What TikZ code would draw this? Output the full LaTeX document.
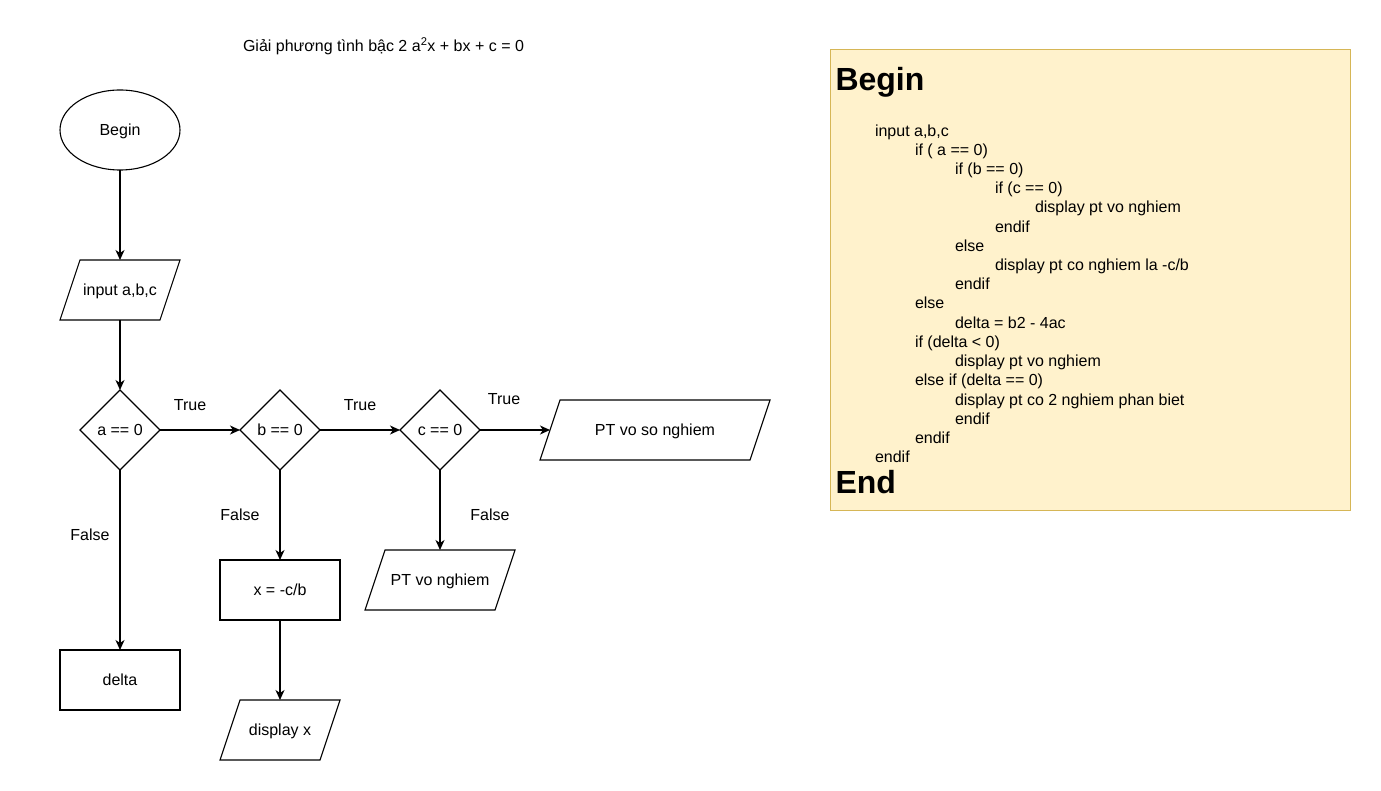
\documentclass[tikz,border=0pt]{standalone}
\usepackage{fontspec}
\setmainfont{Liberation Sans}
\usetikzlibrary{shapes.geometric,arrows.meta}
\definecolor{codefill}{HTML}{FFF2CC}
\definecolor{codeborder}{HTML}{D6B656}
\begin{document}
\begin{tikzpicture}[x=1pt,y=-1pt,
  every node/.style={font=\fontsize{16}{19.2}\selectfont, inner sep=0pt, outer sep=0pt},
  lw/.style={line width=1.1pt},
  txtbox/.style={text height=14.5pt, text depth=3.5pt},
  procbox/.style={draw, lw, rectangle, txtbox, minimum width=120pt, minimum height=60pt},
  parabox/.style={rectangle, txtbox, minimum height=60pt},
  decbox/.style={draw, lw, diamond, txtbox, minimum width=80pt, minimum height=80pt},
  termbox/.style={draw, lw, ellipse, txtbox, minimum width=120pt, minimum height=80pt},
  arr/.style={lw, -{Stealth[length=10pt,width=9pt,inset=3pt]}},
  lbl/.style={txtbox},
  codeline/.style={anchor=base west},
  codehead/.style={anchor=base west, font=\fontsize{32}{38}\selectfont\bfseries},
]
\useasboundingbox (0,0) rectangle (1381,791);

% title
\node[anchor=base west] (title) at (243,51.5) {Giải phương tình bậc 2 a\textsuperscript{2}x + bx + c = 0};

% flowchart nodes
\node[termbox] (begin) at (120,130) {Begin};
\node[parabox, minimum width=120pt] (input) at (120,290) {input a,b,c};
\draw[lw] ([xshift=20pt]input.north west) -- (input.north east) -- ([xshift=-20pt]input.south east) -- (input.south west) -- cycle;
\node[decbox] (a) at (120,430) {a == 0};
\node[decbox] (b) at (280,430) {b == 0};
\node[decbox] (c) at (440,430) {c == 0};
\node[parabox, minimum width=230pt] (vsn) at (655,430) {PT vo so nghiem};
\draw[lw] ([xshift=20pt]vsn.north west) -- (vsn.north east) -- ([xshift=-20pt]vsn.south east) -- (vsn.south west) -- cycle;
\node[procbox] (delta) at (120,680) {delta};
\node[procbox] (x) at (280,590) {x = -c/b};
\node[parabox, minimum width=120pt] (dx) at (280,730) {display x};
\draw[lw] ([xshift=20pt]dx.north west) -- (dx.north east) -- ([xshift=-20pt]dx.south east) -- (dx.south west) -- cycle;
\node[parabox, minimum width=150pt] (vn) at (440,580) {PT vo nghiem};
\draw[lw] ([xshift=20pt]vn.north west) -- (vn.north east) -- ([xshift=-20pt]vn.south east) -- (vn.south west) -- cycle;

% connectors
\draw[arr] (begin.south) -- (input.north);
\draw[arr] (input.south) -- (a.north);
\draw[arr] (a.east) -- (b.west);
\draw[arr] (b.east) -- (c.west);
\draw[arr] (c.east) -- ([xshift=10pt]vsn.west);
\draw[arr] (a.south) -- (delta.north);
\draw[arr] (b.south) -- (x.north);
\draw[arr] (x.south) -- (dx.north);
\draw[arr] (c.south) -- (vn.north);

% labels
\node[lbl] (t1) at (190,405) {True};
\node[lbl] (t2) at (360,405) {True};
\node[lbl] (t3) at (504,399) {True};
\node[lbl] (f1) at (90,535) {False};
\node[lbl] (f2) at (240,515) {False};
\node[lbl] (f3) at (490,515) {False};

% pseudocode box
\node[draw=codeborder, fill=codefill, line width=1pt, minimum width=520pt, minimum height=460pt] (code) at (1090,280) {};
\node[codehead] (hb) at (835.5,91) {Begin};
\node[codeline] (l1) at (875,136.2) {input a,b,c};
\node[codeline] (l2) at (915,155.4) {if ( a == 0)};
\node[codeline] (l3) at (955,174.6) {if (b == 0)};
\node[codeline] (l4) at (995,193.8) {if (c == 0)};
\node[codeline] (l5) at (1035,213) {display pt vo nghiem};
\node[codeline] (l6) at (995,232.2) {endif};
\node[codeline] (l7) at (955,251.4) {else};
\node[codeline] (l8) at (995,270.6) {display pt co nghiem la -c/b};
\node[codeline] (l9) at (955,289.8) {endif};
\node[codeline] (l10) at (915,309) {else};
\node[codeline] (l11) at (955,328.2) {delta = b2 - 4ac};
\node[codeline] (l12) at (915,347.4) {if (delta < 0)};
\node[codeline] (l13) at (955,366.6) {display pt vo nghiem};
\node[codeline] (l14) at (915,385.8) {else if (delta == 0)};
\node[codeline] (l15) at (955,405) {display pt co 2 nghiem phan biet};
\node[codeline] (l16) at (955,424.2) {endif};
\node[codeline] (l17) at (915,443.4) {endif};
\node[codeline] (l18) at (875,462.6) {endif};
\node[codehead] (he) at (835.5,493) {End};
\end{tikzpicture}
\end{document}
